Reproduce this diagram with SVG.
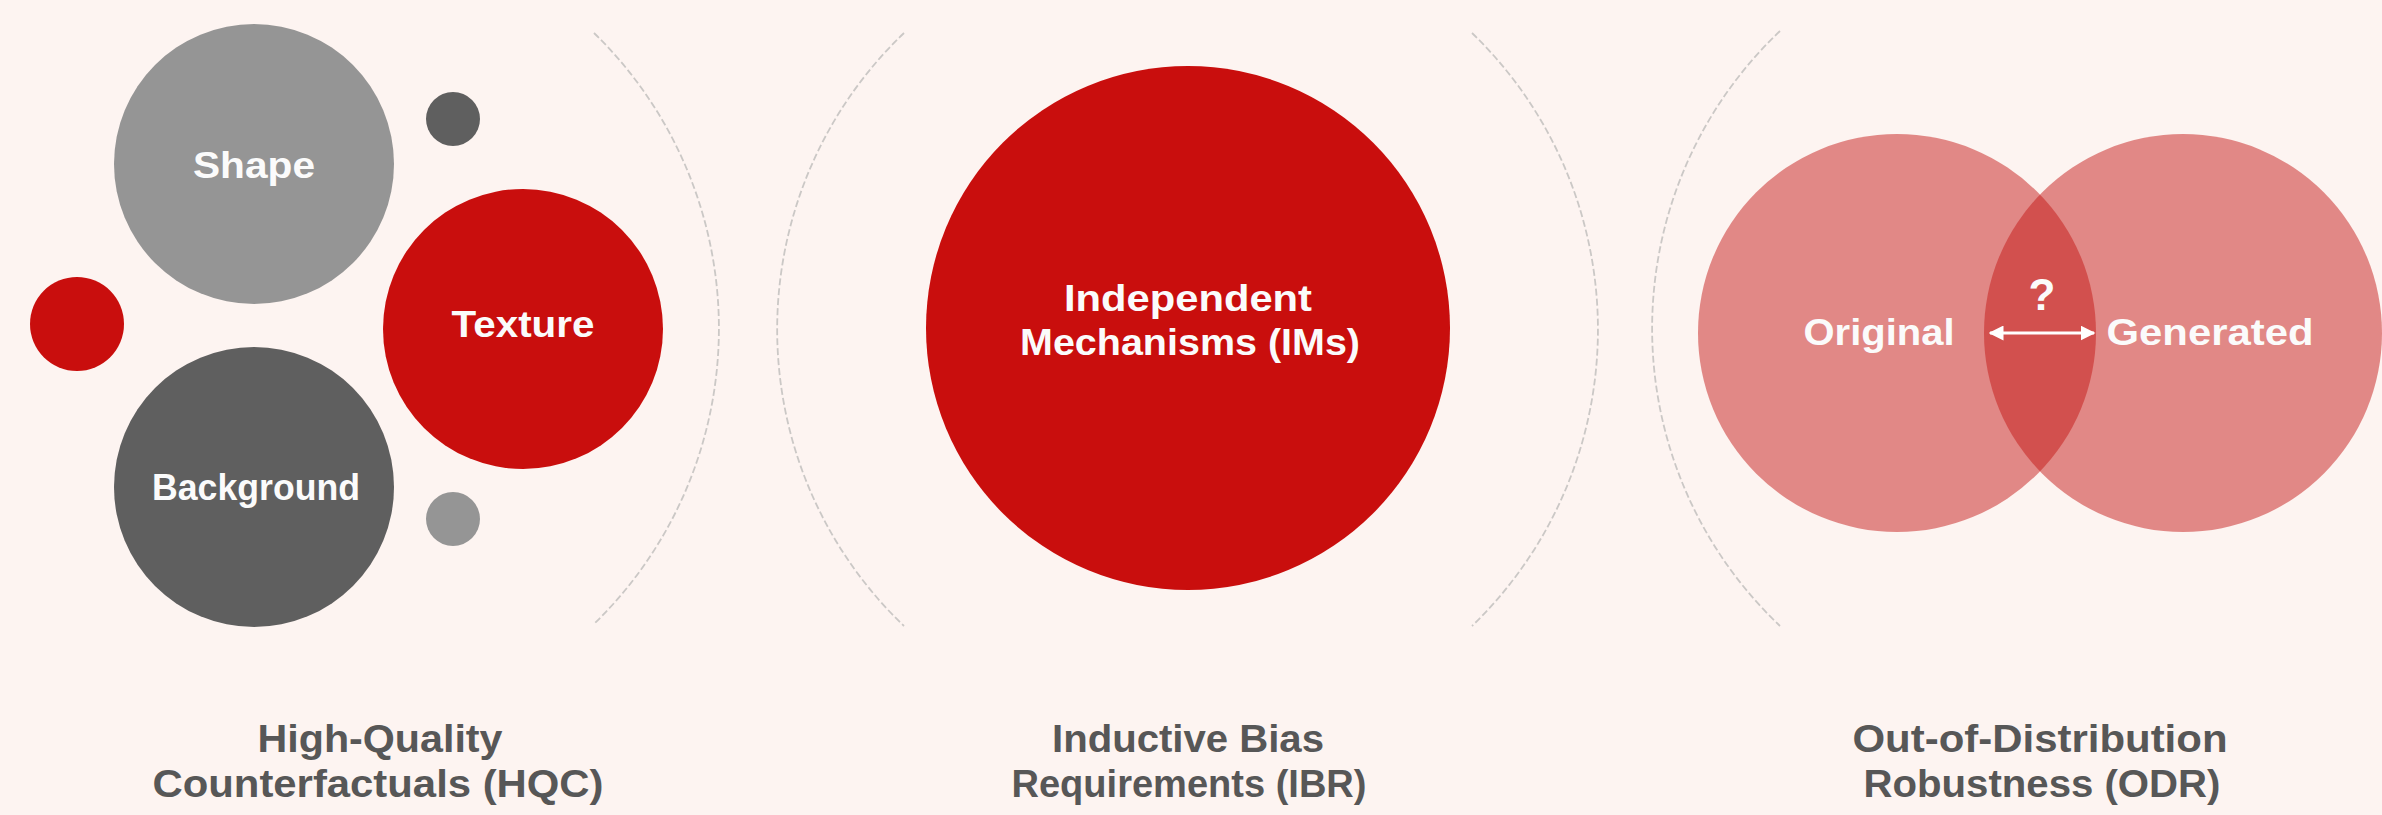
<svg xmlns="http://www.w3.org/2000/svg" width="2382" height="815" viewBox="0 0 2382 815">
  <style>
    .lbl { font-family: "Liberation Sans", Arial, sans-serif; font-weight: 700; font-size: 37px; fill: #fbfbfb; text-anchor: middle; }
    .ttl { font-family: "Liberation Sans", Arial, sans-serif; font-weight: 700; font-size: 38px; fill: #575757; text-anchor: middle; }
    .arc { fill: none; stroke: #cbc8c6; stroke-width: 1.8; stroke-dasharray: 7 3; }
    .red { fill: #c90e0d; }
    .light { fill: #959595; }
    .dark { fill: #5f5f5f; }
    .venn { fill: #c31310; fill-opacity: 0.48; }
  </style>
  <defs>
    <marker id="head" viewBox="0 0 10 10" refX="9" refY="5" markerWidth="5" markerHeight="5" orient="auto-start-reverse" markerUnits="strokeWidth">
      <path d="M0,0 L10,5 L0,10 Z" fill="#ffffff"/>
    </marker>
  </defs>

  <rect width="2382" height="815" fill="#fdf4f1"/>

  <!-- dividing arcs between the three panels -->
  <g id="dividers">
    <path class="arc" d="M594,33 A412,412 0 0 1 594,624"/>
    <path class="arc" d="M904,33 A410,410 0 0 0 904,626"/>
    <path class="arc" d="M1472,33 A412,412 0 0 1 1472,626"/>
    <path class="arc" d="M1780,31 A410,410 0 0 0 1780,626"/>
  </g>

  <!-- panel 1: factors -->
  <g id="shape">
    <circle class="light" cx="254" cy="164" r="140"/>
    <text class="lbl" x="254" y="178" textLength="122" lengthAdjust="spacingAndGlyphs">Shape</text>
  </g>
  <g id="texture">
    <circle class="red" cx="523" cy="329" r="140"/>
    <text class="lbl" x="523" y="337" textLength="143" lengthAdjust="spacingAndGlyphs">Texture</text>
  </g>
  <g id="background">
    <circle class="dark" cx="254" cy="487" r="140"/>
    <text class="lbl" x="256" y="500" textLength="208" lengthAdjust="spacingAndGlyphs">Background</text>
  </g>
  <g id="dot-red"><circle class="red" cx="77" cy="324" r="47"/></g>
  <g id="dot-dark"><circle class="dark" cx="453" cy="119" r="27"/></g>
  <g id="dot-light"><circle class="light" cx="453" cy="519" r="27"/></g>

  <!-- panel 2: mechanisms -->
  <g id="mechanisms">
    <circle class="red" cx="1188" cy="328" r="262"/>
    <text class="lbl" x="1188" y="311" textLength="248" lengthAdjust="spacingAndGlyphs">Independent</text>
    <text class="lbl" x="1190" y="355" textLength="340" lengthAdjust="spacingAndGlyphs">Mechanisms (IMs)</text>
  </g>

  <!-- panel 3: overlapping distributions -->
  <g id="original">
    <circle class="venn" cx="1897" cy="333" r="199"/>
  </g>
  <g id="generated">
    <circle class="venn" cx="2183" cy="333" r="199"/>
  </g>
  <g id="venn-labels">
    <text class="lbl" x="1879" y="345" textLength="151" lengthAdjust="spacingAndGlyphs">Original</text>
    <text class="lbl" x="2210" y="345" textLength="207" lengthAdjust="spacingAndGlyphs">Generated</text>
    <text class="lbl" x="2042" y="310" style="font-size:44px">?</text>
  </g>
  <g id="connectors">
    <line x1="1990" y1="333" x2="2094" y2="333" stroke="#ffffff" stroke-width="3" marker-start="url(#head)" marker-end="url(#head)"/>
  </g>

  <!-- panel captions -->
  <g id="caption-hqc">
    <text class="ttl" x="380" y="752" textLength="245" lengthAdjust="spacingAndGlyphs">High-Quality</text>
    <text class="ttl" x="378" y="797" textLength="451" lengthAdjust="spacingAndGlyphs">Counterfactuals (HQC)</text>
  </g>
  <g id="caption-ibr">
    <text class="ttl" x="1188" y="752" textLength="272" lengthAdjust="spacingAndGlyphs">Inductive Bias</text>
    <text class="ttl" x="1189" y="797" textLength="355" lengthAdjust="spacingAndGlyphs">Requirements (IBR)</text>
  </g>
  <g id="caption-odr">
    <text class="ttl" x="2040" y="752" textLength="375" lengthAdjust="spacingAndGlyphs">Out-of-Distribution</text>
    <text class="ttl" x="2042" y="797" textLength="357" lengthAdjust="spacingAndGlyphs">Robustness (ODR)</text>
  </g>
</svg>
